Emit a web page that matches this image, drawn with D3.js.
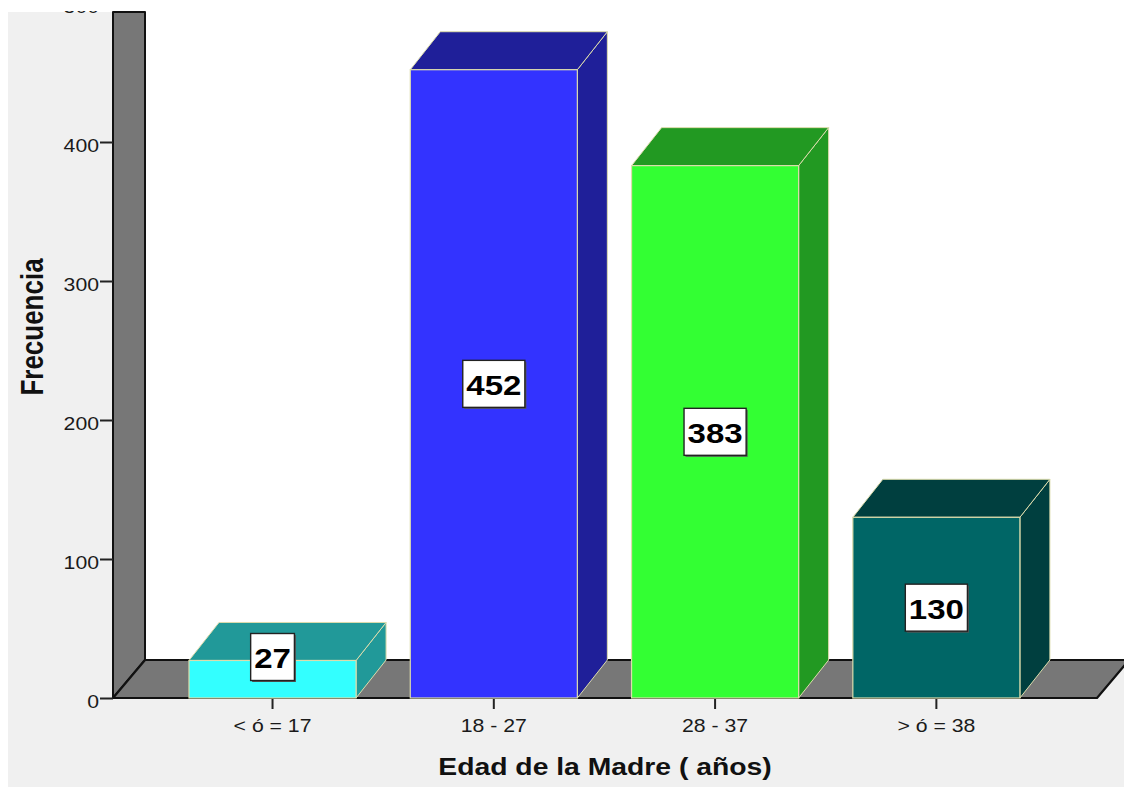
<!DOCTYPE html>
<html>
<head>
<meta charset="utf-8">
<script src="https://cdn.jsdelivr.net/npm/d3@7"></script>
<style>
  html, body { margin: 0; padding: 0; background: #ffffff; }
  svg { display: block; }
  text { font-family: "Liberation Sans", Arial, sans-serif; }
</style>
</head>
<body>
<script>
const categories = ["< ó = 17", "18 - 27", "28 - 37", "> ó = 38"];
const values = [27, 452, 383, 130];
const frontColors = ["#33ffff", "#3333ff", "#33ff33", "#006666"];
const sideColors = ["#219999", "#1f1f99", "#229922", "#003f3f"];
const yTicks = [0, 100, 200, 300, 400, 500];
const yLabel = "Frecuencia";
const xLabel = "Edad de la Madre ( años)";

const W = 1124, H = 787;
const SX = 1.18;               // horizontal stretch of the original picture
const y0 = 698;                // floor front line
const wallX = 113;
const DX = 32, DY = 38;        // wall/floor depth
const BDX = 30, BDY = 38;      // bar depth

const svg = d3.select("body").append("svg").attr("width", W).attr("height", H);

const y = d3.scaleLinear().domain([0, 500]).range([y0, 3]);
const x = d3.scaleBand().domain(categories)
  .range([161.85, 1047.05]).paddingInner(0.245).paddingOuter(0.1227);

// backgrounds
svg.append("rect").attr("width", W).attr("height", H).attr("fill", "#ffffff");
svg.append("rect").attr("x", 8).attr("y", 12).attr("width", W - 8).attr("height", H - 12).attr("fill", "#f0f0f0");
svg.append("rect").attr("x", wallX + DX).attr("y", 0).attr("width", W - wallX - DX).attr("height", y0 - DY).attr("fill", "#ffffff");

// wall
svg.append("polygon")
  .attr("points", [[wallX, 12], [wallX + DX, 12], [wallX + DX, y0 - DY], [wallX, y0]].map(p => p.join(",")).join(" "))
  .attr("fill", "#777777").attr("stroke", "#111").attr("stroke-width", 2).attr("stroke-linejoin", "round");

// floor
const floorRight = 1097;
svg.append("polygon")
  .attr("points", [[wallX, y0], [floorRight, y0], [floorRight + DX, y0 - DY], [wallX + DX, y0 - DY]].map(p => p.join(",")).join(" "))
  .attr("fill", "#777777").attr("stroke", "#111").attr("stroke-width", 2.2).attr("stroke-linejoin", "round");

// bars
const bw = x.bandwidth();
const edge = "#dcdcac";
const bars = svg.append("g");
categories.forEach((c, i) => {
  const bx = x(c), by = y(values[i]);
  const g = bars.append("g");
  // side
  g.append("polygon")
    .attr("points", [[bx + bw, y0], [bx + bw, by], [bx + bw + BDX, by - BDY], [bx + bw + BDX, y0 - BDY]].map(p => p.join(",")).join(" "))
    .attr("fill", sideColors[i]).attr("stroke", edge).attr("stroke-width", 1);
  // top
  g.append("polygon")
    .attr("points", [[bx, by], [bx + BDX, by - BDY], [bx + bw + BDX, by - BDY], [bx + bw, by]].map(p => p.join(",")).join(" "))
    .attr("fill", sideColors[i]).attr("stroke", edge).attr("stroke-width", 1);
  // front
  g.append("rect")
    .attr("x", bx).attr("y", by).attr("width", bw).attr("height", y0 - by)
    .attr("fill", frontColors[i]).attr("stroke", edge).attr("stroke-width", 1.2);
});

// y axis
const yAxis = svg.append("g").attr("transform", `translate(${wallX},0)`)
  .call(d3.axisLeft(y).tickValues(yTicks).tickSize(13).tickPadding(1).tickFormat(d3.format("d")));
yAxis.select(".domain").remove();
yAxis.selectAll(".tick line").attr("stroke", "#222").attr("stroke-width", 2);
yAxis.selectAll(".tick text")
  .attr("x", -14 / SX).attr("dy", "0.53em")
  .attr("transform", `scale(${SX},1)`)
  .attr("font-size", 18).attr("fill", "#1a1a1a")
  .style("font-family", '"Liberation Sans", Arial, sans-serif');

// x axis
const xAxis = svg.append("g").attr("transform", `translate(0,${y0 + 1})`)
  .call(d3.axisBottom(x).tickSize(10).tickPadding(10));
xAxis.select(".domain").remove();
xAxis.selectAll(".tick line").attr("stroke", "#222").attr("stroke-width", 2);
xAxis.selectAll(".tick text")
  .attr("transform", `scale(${SX},1)`)
  .attr("font-size", 18).attr("fill", "#1a1a1a")
  .style("font-family", '"Liberation Sans", Arial, sans-serif');

// value labels
categories.forEach((c, i) => {
  const cx = x(c) + bw / 2;
  const by = y(values[i]);
  const cy = Math.min((by + y0) / 2, y0 - 41);
  const g = svg.append("g").attr("transform", `translate(${cx},${cy})`);
  const shadow = g.append("rect");
  const box = g.append("rect");
  const t = g.append("text")
    .attr("text-anchor", "middle")
    .attr("y", 11)
    .attr("transform", `scale(${SX},1)`)
    .attr("font-size", 28).attr("font-weight", "bold").attr("fill", "#000")
    .text(values[i]);
  const tw = t.node().getComputedTextLength() * SX;
  const bwid = tw + 7, bh = 47;
  shadow.attr("x", -bwid / 2 + 1.5).attr("y", -bh / 2 + 1.5).attr("width", bwid).attr("height", bh).attr("fill", "#555");
  box.attr("x", -bwid / 2).attr("y", -bh / 2).attr("width", bwid).attr("height", bh)
    .attr("fill", "#ffffff").attr("stroke", "#222").attr("stroke-width", 1.4);
});

// axis titles
svg.append("text")
  .attr("transform", `translate(605,775) scale(${SX},1)`)
  .attr("text-anchor", "middle")
  .attr("font-size", 24).attr("font-weight", "bold").attr("fill", "#111")
  .text(xLabel);

svg.append("text")
  .attr("transform", `translate(43,327) scale(${SX},1) rotate(-90)`)
  .attr("text-anchor", "middle")
  .attr("font-size", 26).attr("font-weight", "bold").attr("fill", "#111")
  .text(yLabel);

// top cut strip
svg.append("rect").attr("x", 0).attr("y", 0).attr("width", W).attr("height", 11).attr("fill", "#ffffff");
</script>
</body>
</html>
